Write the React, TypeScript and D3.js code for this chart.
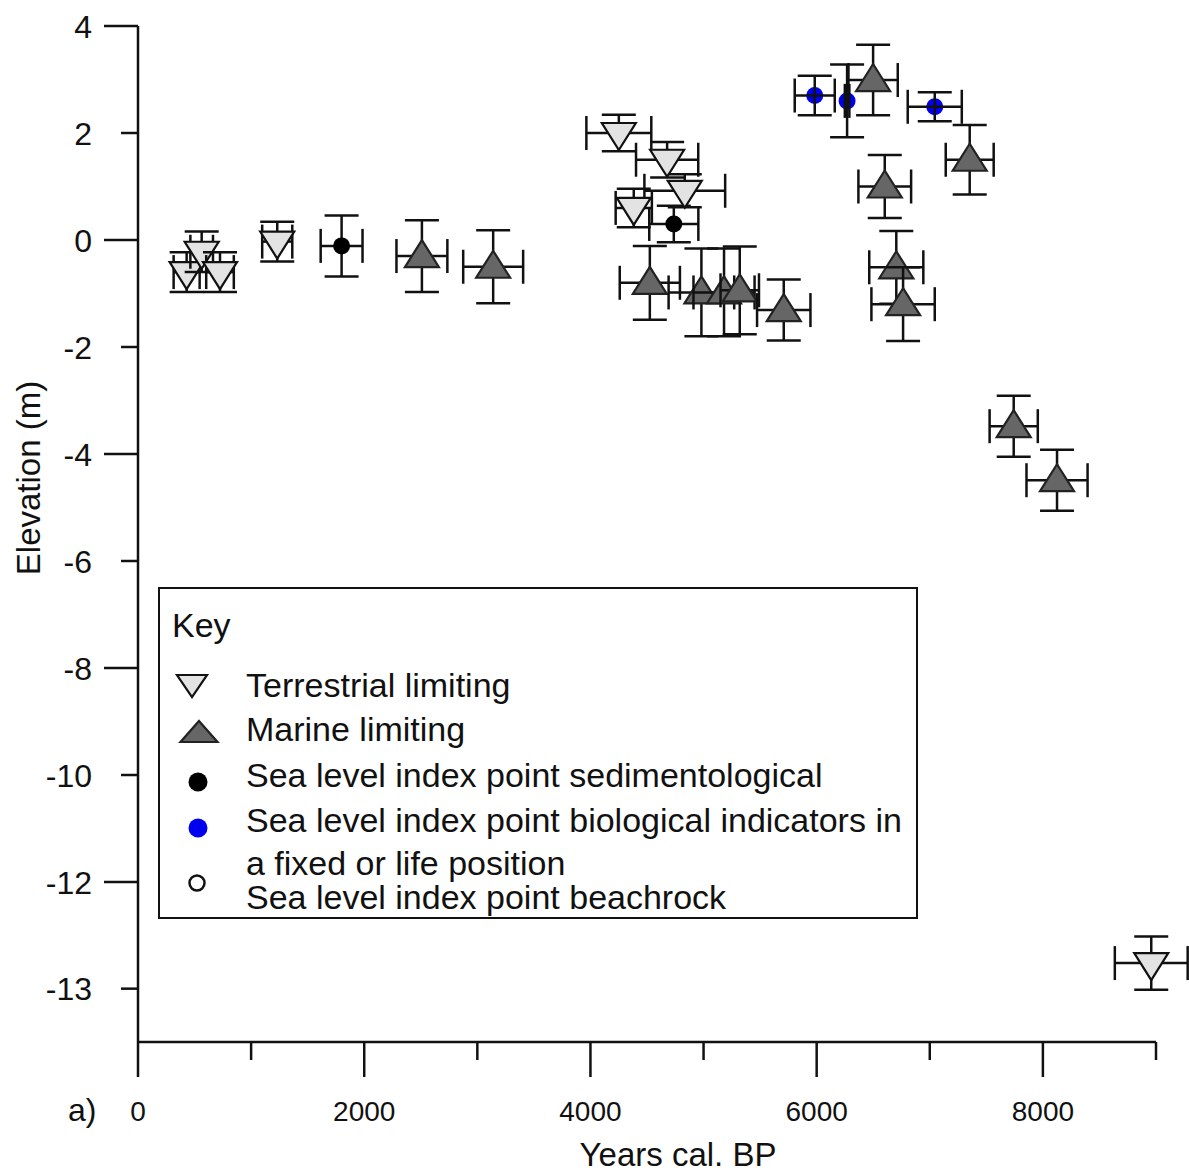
import React from "react";
import * as d3 from "d3";

// ---- Data (years cal. BP, elevation m, errors) ----
const terrestrialYears = [430, 563, 725, 1231, 4251, 4678, 4834, 4383, 8958];
const terrestrialElev = [-0.6, -0.22, -0.6, -0.03, 2.0, 1.5, 0.92, 0.6, -12.76];
const terrestrialYearErr = [115, 100, 122, 133, 287, 275, 357, 160, 322];
const terrestrialElevErr = [0.37, 0.38, 0.37, 0.37, 0.34, 0.33, 0.31, 0.36, 0.25];

const marineYears = [2510, 3140, 4525, 4981, 5181, 5320, 5709, 6499, 7353, 6602, 6704, 6764, 7742, 8125];
const marineElev = [-0.3, -0.5, -0.8, -0.98, -0.98, -0.94, -1.31, 2.99, 1.5, 1.0, -0.51, -1.2, -3.48, -4.49];
const marineYearErr = [225, 265, 266, 290, 270, 170, 236, 218, 212, 233, 239, 280, 213, 270];
const marineElevErr = [0.67, 0.68, 0.69, 0.82, 0.82, 0.82, 0.57, 0.66, 0.65, 0.59, 0.68, 0.69, 0.57, 0.57];

const sedimentYears = [1800, 4737];
const sedimentElev = [-0.11, 0.3];
const sedimentYearErr = [185, 217];
const sedimentElevErr = [0.57, 0.34];

const bioYears = [5983, 6269, 7044];
const bioElev = [2.7, 2.6, 2.49];
const bioYearErr = [177, 20, 239];
const bioElevErr = [0.37, 0.68, 0.27];

const yTickValues = [4, 2, 0, -2, -4, -6, -8, -10, -12, -13];
const yLongTicks = [4, 0, -4, -8, -12];
const xMajorTicks = [0, 2000, 4000, 6000, 8000];
const xMinorTicks = [1000, 3000, 5000, 7000, 9000];

const legendItems = [
  "Terrestrial limiting",
  "Marine limiting",
  "Sea level index point sedimentological",
  "Sea level index point biological indicators in",
  "a fixed or life position",
  "Sea level index point beachrock",
];

const FONT = "'Liberation Sans', Arial, Helvetica, sans-serif";

type Pt = { x: number; y: number; xe: number; ye: number };
const build = (xs: number[], ys: number[], xe: number[], ye: number[]): Pt[] =>
  xs.map((x, i) => ({ x, y: ys[i], xe: xe[i], ye: ye[i] }));

const terrestrial = build(terrestrialYears, terrestrialElev, terrestrialYearErr, terrestrialElevErr);
const marine = build(marineYears, marineElev, marineYearErr, marineElevErr);
const sediment = build(sedimentYears, sedimentElev, sedimentYearErr, sedimentElevErr);
const bio = build(bioYears, bioElev, bioYearErr, bioElevErr);

export default function App() {
  const W = 1189;
  const H = 1173;
  const x = d3.scaleLinear().domain([0, 9000]).range([138, 1156]);
  const y = d3.scaleLinear().domain([4, -12, -13.5]).range([26, 882, 1042]);
  const axisY = 1042;
  const CAP = 17;
  const barColor = "#111";
  const barW = 2.5;

  const ErrBars = ({ p }: { p: Pt }) => {
    const cx = x(p.x), cy = y(p.y);
    const x0 = x(p.x - p.xe), x1 = x(p.x + p.xe);
    const y0 = y(p.y + p.ye), y1 = y(p.y - p.ye);
    return (
      <g stroke={barColor} strokeWidth={barW} fill="none">
        <line x1={x0} x2={x1} y1={cy} y2={cy} />
        <line x1={x0} x2={x0} y1={cy - CAP} y2={cy + CAP} />
        <line x1={x1} x2={x1} y1={cy - CAP} y2={cy + CAP} />
        <line x1={cx} x2={cx} y1={y0} y2={y1} />
        <line x1={cx - CAP} x2={cx + CAP} y1={y0} y2={y0} />
        <line x1={cx - CAP} x2={cx + CAP} y1={y1} y2={y1} />
      </g>
    );
  };

  const upTri = (cx: number, cy: number, w: number, top: number, bot: number) =>
    `M${cx},${cy - top}L${cx + w / 2},${cy + bot}L${cx - w / 2},${cy + bot}Z`;
  const downTri = (cx: number, cy: number, w: number, top: number, bot: number) =>
    `M${cx - w / 2},${cy - top}L${cx + w / 2},${cy - top}L${cx},${cy + bot}Z`;

  const TERR_FILL = "#e3e3e3";
  const MAR_FILL = "#666666";

  return (
    <svg width={W} height={H} style={{ position: "absolute", left: 0, top: 0, background: "#fff" }} fontFamily={FONT}>
      {/* axes */}
      <g stroke="#111" strokeWidth={2.5}>
        <line x1={138} x2={138} y1={y(4)} y2={axisY} />
        <line x1={138} x2={x(9000)} y1={axisY} y2={axisY} />
        {yTickValues.map((v) => (
          <line key={"yt" + v} x1={yLongTicks.includes(v) ? 104 : 121} x2={138} y1={y(v)} y2={y(v)} />
        ))}
        {xMajorTicks.map((v) => (
          <line key={"xM" + v} x1={x(v)} x2={x(v)} y1={axisY} y2={axisY + 35} />
        ))}
        {xMinorTicks.map((v) => (
          <line key={"xm" + v} x1={x(v)} x2={x(v)} y1={axisY} y2={axisY + 18} />
        ))}
      </g>
      {yTickValues.map((v) => (
        <text key={"yl" + v} x={92} y={y(v)} dy="0.36em" textAnchor="end" fontSize={32} fill="#111">
          {v}
        </text>
      ))}
      {xMajorTicks.map((v) => (
        <text key={"xl" + v} x={x(v)} y={1121} textAnchor="middle" fontSize={28} fill="#111">
          {v}
        </text>
      ))}
      <text x={68} y={1121} fontSize={32} fill="#111">a)</text>
      <text x={678} y={1166} textAnchor="middle" fontSize={33} fill="#111">Years cal. BP</text>
      <text transform="translate(40,478) rotate(-90)" textAnchor="middle" fontSize={33} fill="#111">
        Elevation (m)
      </text>

      {/* sedimentological points */}
      {sediment.map((p, i) => (
        <g key={"s" + i}>
          <ErrBars p={p} />
          <circle cx={x(p.x)} cy={y(p.y)} r={8.5} fill="#000" />
        </g>
      ))}
      {/* biological points */}
      {bio.map((p, i) => (
        <g key={"b" + i}>
          <circle cx={x(p.x)} cy={y(p.y)} r={8.5} fill="#0000ee" />
          <ErrBars p={p} />
        </g>
      ))}
      {/* terrestrial */}
      {terrestrial.map((p, i) => (
        <g key={"t" + i}>
          <ErrBars p={p} />
          <path d={downTri(x(p.x), y(p.y), 34, 10, 17)} fill={TERR_FILL} stroke="#111" strokeWidth={2.2} />
        </g>
      ))}
      {/* marine */}
      {marine.map((p, i) => (
        <g key={"m" + i}>
          <ErrBars p={p} />
          <path d={upTri(x(p.x), y(p.y), 34, 16, 11)} fill={MAR_FILL} stroke="#222" strokeWidth={2.2} />
        </g>
      ))}

      {/* legend */}
      <rect x={159} y={588} width={758} height={330} fill="#fff" stroke="#111" strokeWidth={2} />
      <text x={172} y={637} fontSize={34} fill="#111">Key</text>
      <path d={downTri(192, 685, 30, 10, 12)} fill={TERR_FILL} stroke="#111" strokeWidth={2.2} />
      <path d={upTri(199, 732, 37, 11, 10)} fill={MAR_FILL} stroke="#222" strokeWidth={2.2} />
      <circle cx={198} cy={782} r={9.5} fill="#000" />
      <circle cx={198} cy={828} r={9.5} fill="#0000ee" />
      <circle cx={197} cy={883} r={7.5} fill="#fff" stroke="#111" strokeWidth={2.5} />
      {legendItems.map((t, i) => (
        <text key={"lg" + i} x={246} y={[697, 741, 787, 832, 875, 909][i]} fontSize={34} fill="#111">
          {t}
        </text>
      ))}
    </svg>
  );
}
